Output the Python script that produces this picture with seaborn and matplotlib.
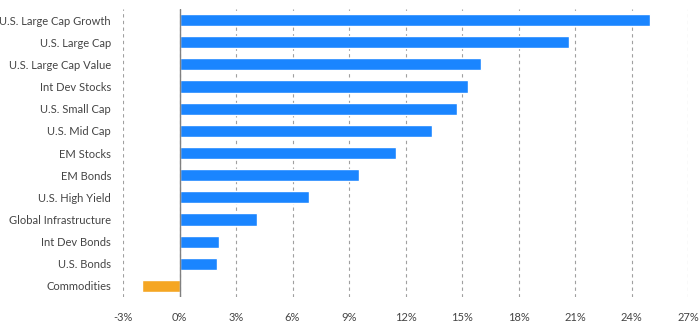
import matplotlib
matplotlib.use("Agg")
import matplotlib.pyplot as plt
import seaborn as sns
import pandas as pd
from matplotlib.ticker import FuncFormatter, MultipleLocator

categories = ["U.S. Large Cap Growth", "U.S. Large Cap", "U.S. Large Cap Value",
              "Int Dev Stocks", "U.S. Small Cap", "U.S. Mid Cap", "EM Stocks",
              "EM Bonds", "U.S. High Yield", "Global Infrastructure",
              "Int Dev Bonds", "U.S. Bonds", "Commodities"]
values = [25.0, 20.7, 16.0, 15.3, 14.75, 13.4, 11.5, 9.55, 6.85, 4.1, 2.1, 2.0, -2.0]

df = pd.DataFrame({"cat": categories, "val": values})
df["sign"] = ["neg" if v < 0 else "pos" for v in values]

sns.set_theme(style="white")
plt.rcParams['font.family'] = ['Lato', 'DejaVu Sans']

fig = plt.figure(figsize=(7, 3.3), dpi=100)
ax = fig.add_axes([123/700, 1-297/330, (688-123)/700, (297-9)/330])

sns.barplot(data=df, y="cat", x="val", hue="sign",
            palette={"pos": "#1a85ff", "neg": "#f5a623"},
            width=0.55, legend=False, ax=ax, orient="h", saturation=1)

ax.set_xlim(-3, 27)
ax.set_ylim(12.5, -0.5)
ax.xaxis.set_major_locator(MultipleLocator(3))
ax.xaxis.set_major_formatter(FuncFormatter(lambda v, p: f"{v:.0f}%"))
ax.set_xlabel("")
ax.set_ylabel("")
for s in ax.spines.values():
    s.set_visible(False)
ax.grid(axis="x", linestyle=(0, (3, 3)), color="#a0a0a0", linewidth=0.8)
ax.set_axisbelow(True)
ax.axvline(0, color="#808080", linewidth=1, zorder=3)
ax.tick_params(axis="both", length=0, labelsize=8, colors="#444444")
ax.tick_params(axis="x", pad=11)
ax.tick_params(axis="y", pad=8.6)

fig.savefig("out.png", dpi=100)
